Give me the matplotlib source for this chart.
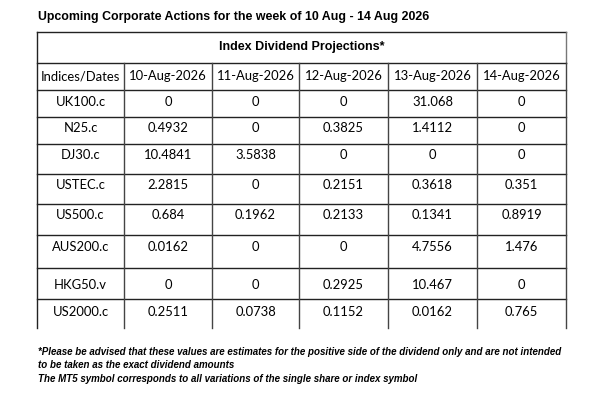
import matplotlib
matplotlib.use("Agg")
import matplotlib.pyplot as plt

# ---- data ----
title = "Upcoming Corporate Actions for the week of 10 Aug - 14 Aug 2026"
table_title = "Index Dividend Projections*"
corner_label = "Indices/Dates"
dates = ["10-Aug-2026", "11-Aug-2026", "12-Aug-2026", "13-Aug-2026", "14-Aug-2026"]
indices = ["UK100.c", "N25.c", "DJ30.c", "USTEC.c", "US500.c", "AUS200.c", "HKG50.v", "US2000.c"]
values = [
    ["0", "0", "0", "31.068", "0"],
    ["0.4932", "0", "0.3825", "1.4112", "0"],
    ["10.4841", "3.5838", "0", "0", "0"],
    ["2.2815", "0", "0.2151", "0.3618", "0.351"],
    ["0.684", "0.1962", "0.2133", "0.1341", "0.8919"],
    ["0.0162", "0", "0", "4.7556", "1.476"],
    ["0", "0", "0.2925", "10.467", "0"],
    ["0.2511", "0.0738", "0.1152", "0.0162", "0.765"],
]
footnotes = [
    "*Please be advised that these values are estimates for the positive side of the dividend only and are not intended",
    "to be taken as the exact dividend amounts",
    "The MT5 symbol corresponds to all variations of the single share or index symbol",
]

# ---- layout (pixel coordinates, y down) ----
W, H = 601, 401
col_edges = [37, 124, 212, 299, 388, 477, 566]
top = 32
title_row_bottom = 63
row_edges = [90, 117, 144, 174, 204, 235, 268, 299, 328]
text_offset = [12, 11, 11, 11, 11, 12, 17, 13]

fig = plt.figure(figsize=(W / 100, H / 100), dpi=100)
ax = fig.add_axes([0, 0, 1, 1])
ax.set_xlim(0, W)
ax.set_ylim(H, 0)
ax.axis("off")

bold_font = dict(family="Liberation Sans", fontweight="bold", color="black")
cell_font = dict(family="Lato", fontsize=9.4, color="black")
lc = "#222222"

ax.text(38, 17, title, fontsize=8.95, va="center", ha="left", **bold_font)

# outer box and title row
left, right = col_edges[0], col_edges[-1]
ax.plot([left, right], [top, top], color=lc, lw=1.0)
ax.plot([left, left], [top, row_edges[-1]], color=lc, lw=1.0)
ax.plot([right, right], [top, title_row_bottom], color="#777777", lw=1.0)
ax.plot([left, right], [title_row_bottom, title_row_bottom], color=lc, lw=1.0)
ax.text((left + right) / 2, 47, table_title, fontsize=9.0, ha="center", va="center", **bold_font)

# horizontal row lines
for y in row_edges[:-1]:
    ax.plot([left, right], [y, y], color=lc, lw=1.0)

# vertical column lines
for x in col_edges[1:]:
    ax.plot([x, x], [title_row_bottom, row_edges[-1]], color="#444444", lw=1.0)

# header row
hy = (title_row_bottom + row_edges[0]) / 2
header = [corner_label] + dates
for i, lab in enumerate(header):
    cx = (col_edges[i] + col_edges[i + 1]) / 2
    ax.text(cx, hy, lab, ha="center", va="center", **cell_font)

# body rows
for r, name in enumerate(indices):
    cy = row_edges[r] + text_offset[r]
    cells = [name] + values[r]
    for i, lab in enumerate(cells):
        cx = (col_edges[i] + col_edges[i + 1]) / 2
        ax.text(cx, cy, lab, ha="center", va="center", **cell_font)

# footnotes
for k, line in enumerate(footnotes):
    ax.text(38, 352 + 13.5 * k, line, fontsize=7.05, fontstyle="italic",
            ha="left", va="center", **bold_font)

fig.savefig("out.png", dpi=100)
plt.close(fig)
